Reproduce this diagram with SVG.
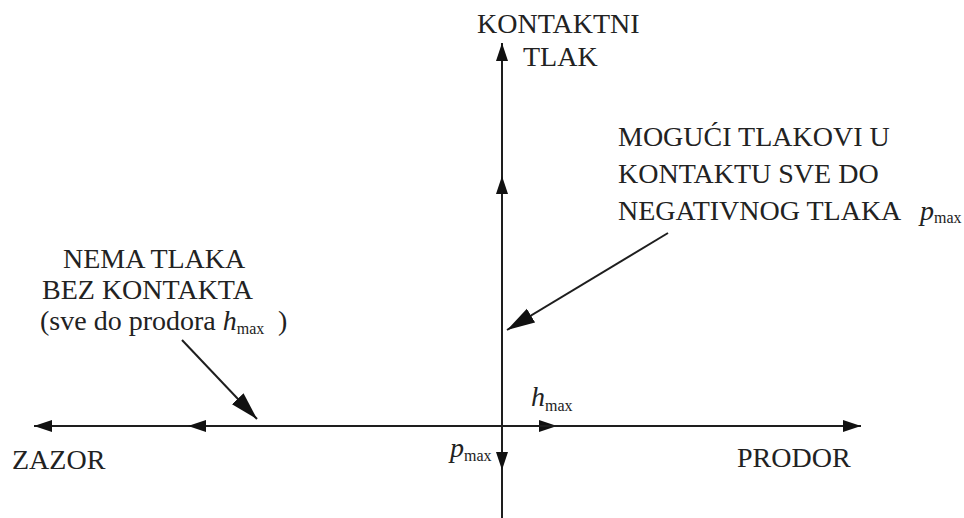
<svg xmlns="http://www.w3.org/2000/svg" width="964" height="518" viewBox="0 0 964 518">
<defs>
<style>
.t{font-family:"Liberation Serif","Times New Roman",serif;font-size:28px;fill:#222}
.i{font-style:italic}
.s{font-size:16px}
.ax{stroke:#1e1e1e;stroke-width:2;fill:none}
</style>
<marker id="ah" markerUnits="userSpaceOnUse" markerWidth="20" markerHeight="14" viewBox="0 -7 20 14" refX="18" refY="0" orient="auto"><path d="M0,-6 L18,0 L0,6 Z" fill="#111"/></marker>
<marker id="ahd" markerUnits="userSpaceOnUse" markerWidth="30" markerHeight="18" viewBox="0 -9 30 18" refX="28" refY="0" orient="auto"><path d="M0,-8 L28,0 L0,8 Z" fill="#111"/></marker>
</defs>
<rect width="964" height="518" fill="#fff"/>
<g id="connectors">
<line class="ax" x1="502" y1="426" x2="34" y2="426" marker-end="url(#ah)"/>
<line class="ax" x1="502" y1="426" x2="188" y2="426" marker-end="url(#ah)"/>
<line class="ax" x1="502" y1="426" x2="557" y2="426" marker-end="url(#ah)"/>
<line class="ax" x1="502" y1="426" x2="861" y2="426" marker-end="url(#ah)"/>
<line class="ax" x1="502" y1="518" x2="502" y2="43" marker-end="url(#ah)"/>
<line class="ax" x1="502" y1="426" x2="502" y2="176" marker-end="url(#ah)"/>
<line class="ax" x1="502" y1="426" x2="502" y2="470" marker-end="url(#ah)"/>
<line class="ax" x1="182" y1="340" x2="257" y2="419" marker-end="url(#ahd)"/>
<line class="ax" x1="668" y1="233" x2="507" y2="330" marker-end="url(#ahd)"/>
</g>
<g id="label-kontaktni-tlak">
<text class="t" x="477" y="33">KONTAKTNI</text>
<text class="t" x="523" y="66">TLAK</text>
</g>
<g id="label-moguci">
<text class="t" x="618" y="146">MOGUĆI TLAKOVI U</text>
<text class="t" x="618" y="183">KONTAKTU SVE DO</text>
<text class="t" x="618" y="220">NEGATIVNOG TLAKA <tspan class="i" x="920">p</tspan><tspan class="s" dy="3">max</tspan></text>
</g>
<g id="label-nema">
<text class="t" x="63" y="268">NEMA TLAKA</text>
<text class="t" x="42" y="299">BEZ KONTAKTA</text>
<text class="t" x="40" y="330">(sve do prodora <tspan class="i">h</tspan><tspan class="s" dy="4">max</tspan><tspan dy="-4" x="278">)</tspan></text>
</g>
<g id="label-zazor"><text class="t" x="12" y="469">ZAZOR</text></g>
<g id="label-prodor"><text class="t" x="737" y="467">PRODOR</text></g>
<g id="label-hmax"><text class="t" x="531" y="406"><tspan class="i">h</tspan><tspan class="s" dy="5">max</tspan></text></g>
<g id="label-pmax"><text class="t" x="450" y="457"><tspan class="i">p</tspan><tspan class="s" dy="4">max</tspan></text></g>
</svg>
